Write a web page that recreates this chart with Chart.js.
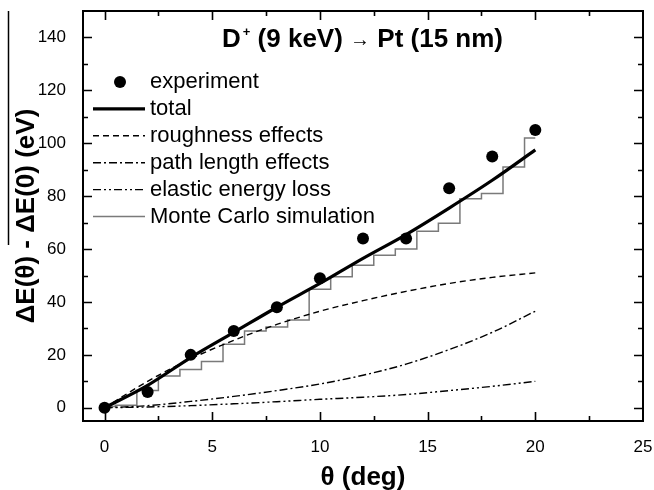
<!DOCTYPE html>
<html>
<head>
<meta charset="utf-8">
<script src="https://cdn.jsdelivr.net/npm/chart.js@4.4.1/dist/chart.umd.min.js"></script>
<style>
  html, body { margin: 0; padding: 0; background: #fff; }
  #wrap { width: 654px; height: 490px; }
</style>
</head>
<body>
<div id="wrap"><canvas id="chart" width="654" height="490"></canvas></div>
<script>
// values
const angles = [0, 2, 4, 6, 8, 10, 12, 14, 16, 18, 20];
const experiment = [0, 6, 20, 29, 38, 49, 64, 64, 83, 95, 105];
const total = [0, 8.5, 19, 28.5, 38, 47, 56.5, 65.5, 75.5, 86, 97.5];
const roughness = [0, 10, 18.5, 25.5, 31.5, 36.5, 40.5, 44, 47, 49.3, 51];
const pathLength = [0, 0.8, 2.4, 4.3, 6.5, 9, 12.3, 16.5, 22, 28.5, 36.5];
const elastic = [0, 0.3, 0.8, 1.5, 2.3, 3.2, 4.0, 5.0, 6.5, 8.1, 10];

const mcAngles = [0, 1, 2, 3, 4, 5, 6, 7, 8, 9, 10, 11, 12, 13, 14, 15, 16, 17, 18, 19, 20];
const monteCarlo = [0.5, 1, 6.5, 12, 14.5, 17.5, 24, 29, 30.5, 33.2, 44.8, 49.5, 53.9, 57.7, 60, 66.7, 69.8, 79, 81, 91, 102];

const xTicks = [0, 5, 10, 15, 20, 25];
const yTicks = [0, 20, 40, 60, 80, 100, 120, 140];

const FONT = "'Liberation Sans', Arial, sans-serif";

const pts = (xs, ys) => xs.map((x, i) => ({ x: x, y: ys[i] }));

// frame with inward ticks on all four sides
const framePlugin = {
    id: 'frame',
    afterDraw(chart) {
        const { ctx, chartArea: a, scales: { x, y } } = chart;
        ctx.save();
        ctx.strokeStyle = '#000';
        ctx.lineWidth = 2;
        ctx.strokeRect(a.left, a.top, a.right - a.left, a.bottom - a.top);
        ctx.lineWidth = 1.6;
        ctx.beginPath();
        const xt = (v, len) => {
            const px = Math.round(x.getPixelForValue(v)) + 0.5;
            ctx.moveTo(px, a.bottom); ctx.lineTo(px, a.bottom - len);
            ctx.moveTo(px, a.top); ctx.lineTo(px, a.top + len);
        };
        const yt = (v, len) => {
            const py = Math.round(y.getPixelForValue(v)) + 0.5;
            ctx.moveTo(a.left, py); ctx.lineTo(a.left + len, py);
            ctx.moveTo(a.right, py); ctx.lineTo(a.right - len, py);
        };
        xTicks.forEach(v => { if (v < x.max) xt(v, 9); xt(v + 2.5, 5); });
        yTicks.forEach(v => { yt(v, 9); if (v + 10 < y.max) yt(v + 10, 5); });
        ctx.stroke();

        // title
        ctx.fillStyle = '#000';
        ctx.textBaseline = 'alphabetic';
        let tx = 222;
        const ty = 47;
        const piece = (txt, font, dy, gap) => {
            ctx.font = font;
            ctx.fillText(txt, tx + (gap || 0), ty + (dy || 0));
            tx += ctx.measureText(txt).width + (gap || 0);
        };
        piece('D', 'bold 26px ' + FONT);
        piece('+', 'bold 13px ' + FONT, -11, 2);
        piece(' (9 keV) ', 'bold 26px ' + FONT);
        piece('\u2192', '20px ' + FONT, -1);
        piece(' Pt (15 nm)', 'bold 26px ' + FONT);

        // bar over the y title
        ctx.lineWidth = 1.5;
        ctx.beginPath();
        ctx.moveTo(8.5, 11);
        ctx.lineTo(8.5, 245);
        ctx.stroke();
        ctx.restore();
    }
};

// legend drawn inside the plot, upper left
const legendPlugin = {
    id: 'innerLegend',
    afterDraw(chart) {
        const ctx = chart.ctx;
        ctx.save();
        chart.data.datasets.forEach((ds, i) => {
            const ry = 82 + i * 26.9;
            if (ds.showLine === false) {
                ctx.fillStyle = ds.pointBackgroundColor;
                ctx.beginPath();
                ctx.arc(120, ry, ds.pointRadius, 0, Math.PI * 2);
                ctx.fill();
            } else {
                ctx.strokeStyle = ds.borderColor;
                ctx.lineWidth = ds.borderWidth;
                ctx.setLineDash(ds.borderDash || []);
                ctx.beginPath();
                ctx.moveTo(93, ry);
                ctx.lineTo(145, ry);
                ctx.stroke();
                ctx.setLineDash([]);
            }
            ctx.fillStyle = '#000';
            ctx.font = '22px ' + FONT;
            ctx.textBaseline = 'alphabetic';
            ctx.fillText(ds.label, 150, ry + 6);
        });
        ctx.restore();
    }
};

const curve = (label, ys, width, dash) => ({
    label: label,
    data: pts(angles, ys),
    borderColor: '#000',
    borderWidth: width,
    borderDash: dash,
    pointRadius: 0,
    fill: false,
    tension: 0.4,
    cubicInterpolationMode: 'monotone'
});

new Chart(document.getElementById('chart'), {
    type: 'line',
    data: {
        datasets: [
            {
                label: 'experiment',
                data: pts(angles, experiment),
                showLine: false,
                pointRadius: 6,
                pointBackgroundColor: '#000',
                pointBorderColor: '#000',
                pointBorderWidth: 0
            },
            curve('total', total, 3.2, []),
            curve('roughness effects', roughness, 1.4, [6, 4]),
            curve('path length effects', pathLength, 1.4, [8, 3, 2, 3]),
            curve('elastic energy loss', elastic, 1.4, [8, 3, 2, 3, 2, 3]),
            {
                label: 'Monte Carlo simulation',
                data: pts(mcAngles, monteCarlo),
                borderColor: '#7a7a7a',
                borderWidth: 1.5,
                pointRadius: 0,
                stepped: 'middle',
                fill: false
            }
        ]
    },
    options: {
        responsive: false,
        animation: false,
        devicePixelRatio: 1,
        layout: { padding: { top: 11, right: 11, left: 0, bottom: 0 } },
        plugins: {
            legend: { display: false },
            tooltip: { enabled: false },
            title: { display: false }
        },
        scales: {
            x: {
                type: 'linear',
                min: -1,
                max: 25,
                grid: { display: false },
                border: { display: false },
                afterBuildTicks: s => { s.ticks = xTicks.map(v => ({ value: v })); },
                afterFit: s => { s.height = 69; s.paddingLeft = 0; s.paddingRight = 0; },
                ticks: { padding: 8, color: '#000', font: { family: FONT, size: 17 }, maxRotation: 0, autoSkip: false },
                title: {
                    display: true,
                    text: 'θ (deg)',
                    color: '#000',
                    font: { family: FONT, size: 26, weight: 'bold', lineHeight: 1 },
                    padding: { top: 0, bottom: -1 }
                }
            },
            y: {
                type: 'linear',
                min: -5,
                max: 150,
                grid: { display: false },
                border: { display: false },
                afterBuildTicks: s => { s.ticks = yTicks.map(v => ({ value: v })); },
                afterFit: s => { s.width = 83; s.paddingTop = 0; s.paddingBottom = 0; },
                ticks: { padding: 9, color: '#000', font: { family: FONT, size: 17 }, autoSkip: false },
                title: {
                    display: true,
                    text: 'ΔE(θ) - ΔE(0) (eV)',
                    color: '#000',
                    font: { family: FONT, size: 26, weight: 'bold', lineHeight: 1 },
                    padding: { top: 14, bottom: 0 }
                }
            }
        }
    },
    plugins: [framePlugin, legendPlugin]
});
</script>
</body>
</html>
